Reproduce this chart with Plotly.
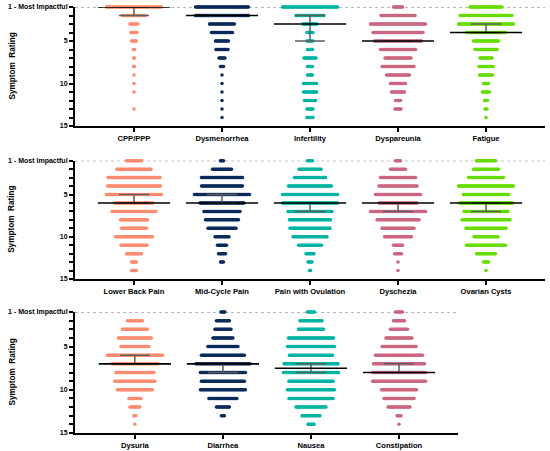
import plotly.graph_objects as go

# ---------- data ----------
# ratings 1..14 (nobody picked 15); values = number of participants per rating
RATINGS = list(range(1, 15))

ROW1_NAMES = ["CPP/PPP", "Dysmenorrhea", "Infertility", "Dyspareunia", "Fatigue"]
ROW2_NAMES = ["Lower Back Pain", "Mid-Cycle Pain", "Pain with Ovulation", "Dyschezia", "Ovarian Cysts"]
ROW3_NAMES = ["Dysuria", "Diarrhea", "Nausea", "Constipation"]

cpp_ppp = [56, 24, 9, 7, 6, 2, 2, 2, 1, 1, 1, 0, 1, 0]
dysmenorrhea = [54, 54, 26, 22, 14, 13, 7, 4, 1, 1, 1, 1, 1, 1]
infertility = [56, 29, 15, 7, 7, 6, 13, 6, 6, 14, 14, 12, 7, 7]
dyspareunia = [10, 35, 56, 51, 48, 36, 27, 33, 24, 16, 14, 6, 7, 0]
fatigue = [33, 53, 56, 40, 26, 23, 13, 15, 14, 6, 8, 4, 3, 1]

lower_back_pain = [16, 35, 53, 54, 56, 39, 45, 28, 26, 38, 27, 16, 6, 6]
mid_cycle_pain = [4, 20, 42, 42, 56, 45, 37, 34, 29, 15, 10, 8, 4, 0]
pain_with_ovulation = [6, 23, 32, 44, 56, 56, 45, 42, 41, 35, 24, 9, 5, 2]
dyschezia = [6, 16, 36, 39, 46, 39, 56, 43, 33, 28, 10, 8, 1, 1]
ovarian_cysts = [20, 26, 36, 56, 46, 54, 45, 49, 41, 25, 40, 20, 6, 1]

dysuria = [0, 16, 26, 34, 29, 56, 47, 39, 41, 36, 13, 11, 3, 1]
diarrhea = [5, 14, 17, 21, 31, 44, 55, 46, 44, 46, 29, 14, 4, 0]
nausea = [8, 23, 26, 46, 48, 44, 55, 56, 45, 48, 45, 31, 19, 7]
constipation = [8, 12, 18, 27, 35, 48, 52, 54, 54, 36, 31, 23, 5, 1]

# median and its interval (lo, hi)
ROW1_MED = [1, 2, 3, 5, 4]
ROW1_LO = [1, 2, 2, 5, 3]
ROW1_HI = [2, 2, 5, 5, 4]

ROW2_MED = [6, 6, 6, 6, 6]
ROW2_LO = [5, 5, 6, 6, 6]
ROW2_HI = [6, 6, 7, 7, 7]

ROW3_MED = [7, 7, 7.5, 8]
ROW3_LO = [6, 7, 7, 7]
ROW3_HI = [7, 8, 8, 8]

COLORS = ["#FF8C70", "#0B2B5B", "#00B4A2", "#CC6680", "#66DD00"]

ROWS = [
    (ROW1_NAMES, [cpp_ppp, dysmenorrhea, infertility, dyspareunia, fatigue], ROW1_MED, ROW1_LO, ROW1_HI),
    (ROW2_NAMES, [lower_back_pain, mid_cycle_pain, pain_with_ovulation, dyschezia, ovarian_cysts],
     ROW2_MED, ROW2_LO, ROW2_HI),
    (ROW3_NAMES, [dysuria, diarrhea, nausea, constipation], ROW3_MED, ROW3_LO, ROW3_HI),
]

# ---------- layout constants ----------
W, H = 550, 451


def px_x(p):
    return p / W


def px_y(q):
    return 1 - q / H


DOT_STEP = 1 / 88  # horizontal spacing of stacked dots (category units)
FAMILY = "Liberation Sans, Arial, sans-serif"
XFONT = dict(family=FAMILY, size=7.6, color="black", weight="bold")
YFONT = dict(family=FAMILY, size=7.0, color="black", weight="bold")
TFONT = dict(family=FAMILY, size=8.2, color="black", weight="bold")
X_DOMAINS = [[px_x(75), px_x(545)], [px_x(75), px_x(545)], [px_x(75), px_x(458)]]
Y_DOMAINS = [[px_y(126), px_y(7)], [px_y(279), px_y(160.7)], [px_y(433), px_y(312)]]
X_RANGES = [[-0.67, 4.67], [-0.67, 4.67], [-0.68, 3.67]]

fig = go.Figure()

for r, (names, series, med, lo, hi) in enumerate(ROWS):
    sfx = "" if r == 0 else str(r + 1)
    xa, ya = "x" + sfx, "y" + sfx
    idx = list(range(len(names)))

    for i, counts in enumerate(series):
        xs, ys = [], []
        for rating, n in zip(RATINGS, counts):
            for j in range(n):
                xs.append(i + (j - (n - 1) / 2) * DOT_STEP)
                ys.append(rating)
        fig.add_trace(go.Scatter(
            x=xs, y=ys, mode="markers", xaxis=xa, yaxis=ya,
            marker=dict(size=3.5, color=COLORS[i], line=dict(width=0)),
            cliponaxis=False, hoverinfo="skip",
        ))

    # interval bars
    fig.add_trace(go.Scatter(
        x=idx, y=med, mode="markers", xaxis=xa, yaxis=ya,
        marker=dict(size=1, opacity=0),
        error_y=dict(type="data", symmetric=False,
                     array=[h - m for h, m in zip(hi, med)],
                     arrayminus=[m - l for m, l in zip(med, lo)],
                     color="#5e5e5e", thickness=1.5, width=15),
        cliponaxis=False, hoverinfo="skip",
    ))

    # median lines
    mx, my = [], []
    for i, m in zip(idx, med):
        mx += [i - 0.41, i + 0.41, None]
        my += [m, m, None]
    fig.add_trace(go.Scatter(
        x=mx, y=my, mode="lines", xaxis=xa, yaxis=ya,
        line=dict(color="black", width=1.6), cliponaxis=False, hoverinfo="skip",
    ))

    fig.update_layout(**{
        "xaxis" + sfx: dict(
            domain=X_DOMAINS[r], anchor=ya, range=X_RANGES[r], automargin=False,
            tickvals=idx, ticktext=names, tickfont=XFONT,
            showline=True, linecolor="black", linewidth=2,
            ticks="outside", ticklen=4, tickwidth=1.5, tickcolor="black",
            showgrid=False, zeroline=False, fixedrange=True,
        ),
        "yaxis" + sfx: dict(
            domain=Y_DOMAINS[r], anchor=xa, range=[15, 1], automargin=False,
            tickvals=list(range(1, 16)),
            ticktext=["1 - Most Impactful" if v == 1 else (str(v) if v in (5, 10, 15) else "")
                      for v in range(1, 16)],
            tickfont=YFONT,
            showline=True, linecolor="black", linewidth=2,
            ticks="outside", ticklen=4, tickwidth=1.5, tickcolor="black",
            showgrid=False, zeroline=False, fixedrange=True,
        ),
    })

    # dotted reference at rating 1
    fig.add_shape(type="line", xref=xa + " domain", yref=ya, x0=0, x1=1, y0=1, y1=1,
                  line=dict(color="#6e6e6e", width=1, dash="dot"), layer="below")

    fig.add_annotation(
        text="Symptom\u00a0\u00a0Rating", textangle=-90, xref="paper", yref="paper",
        x=px_x(12), y=sum(Y_DOMAINS[r]) / 2, showarrow=False, font=TFONT,
        xanchor="center", yanchor="middle",
    )

fig.update_layout(
    width=W, height=H,
    margin=dict(l=0, r=0, t=0, b=0),
    paper_bgcolor="white", plot_bgcolor="white",
    showlegend=False,
)

# drop the default page margin so the figure sits at the window's corner
fig.write_html("out.html", config={"displayModeBar": False},
               post_script="document.body.style.margin='0';")
